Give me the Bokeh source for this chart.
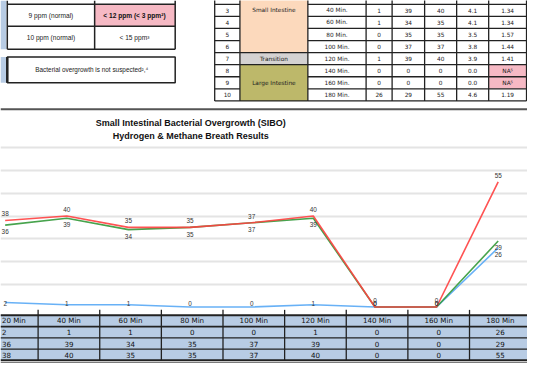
from bokeh.plotting import figure
from bokeh.models import Range1d
from bokeh.embed import file_html
from bokeh.resources import INLINE
from bokeh.core.properties import value

# ---------------- data ----------------
time_labels = ["20 Min", "40 Min", "60 Min", "80 Min", "100 Min", "120 Min", "140 Min", "160 Min", "180 Min"]
minutes = [20, 40, 60, 80, 100, 120, 140, 160, 180]
methane = [2, 1, 1, 0, 0, 1, 0, 0, 26]
hydrogen = [36, 39, 34, 35, 37, 39, 0, 0, 29]
combined = [38, 40, 35, 35, 37, 40, 0, 0, 55]

sample_nums = ["2", "3", "4", "5", "6", "7", "8", "9", "10"]
sample_times = ["20 Min.", "40 Min.", "60 Min.", "80 Min.", "100 Min.", "120 Min.", "140 Min.", "160 Min.", "180 Min."]
co2_vals = ["3.2", "4.1", "4.1", "3.5", "3.8", "3.9", "0.0", "0.0", "4.6"]
factor_vals = ["1.71", "1.34", "1.34", "1.57", "1.44", "1.41", "NA\u2075", "NA\u2075", "1.19"]
regions = ["Small Intestine", "Transition", "Large Intestine"]
region_first = [0, 5, 6]
region_last = [4, 5, 8]
region_label_row = [1, 5, 7]

ref_left = ["9 ppm (normal)", "10 ppm (normal)"]
ref_right = ["< 12 ppm (< 3 ppm\u00b2)", "< 15 ppm\u00b3"]
conclusion = "Bacterial overgrowth is not suspected\u00b2,\u2074"
title_lines = ["Small Intestinal Bacterial Overgrowth (SIBO)", "Hydrogen & Methane Breath Results"]

# ---------------- styling / layout ----------------
RED, GREEN, BLUE = "#FF4040", "#33993A", "#58A8F5"
DARK = "#222222"
TBL_BLUE = "#B8CCE4"
PINK = "#F6B9C4"
PEACH = "#FCD9BC"
GREY = "#D4D2D2"
OLIVE = "#BDB86A"
S = 0.965


def fs(px):
    return f"{px * S:.1f}px"


W, H = 527, 363
p = figure(width=W, height=H, x_range=Range1d(0, 543), y_range=Range1d(379, 0),
           output_backend="svg", toolbar_location=None, min_border=0,
           x_axis_location=None, y_axis_location=None,
           background_fill_color="white", border_fill_color="white")
p.grid.visible = False
p.outline_line_color = None

X0_PX, DX_PX = 4.8, 63.5
p.extra_x_ranges = {"min": Range1d(20 - X0_PX * 20 / DX_PX, 20 + (543 - X0_PX) * 20 / DX_PX)}
Y0_PX, PX_PER_PPM = 320.0, 2.375
p.extra_y_ranges = {"ppm": Range1d(-(379 - Y0_PX) / PX_PER_PPM, Y0_PX / PX_PER_PPM)}
TABLE_SHIFT = 2.2 * 20 / DX_PX  # data table columns sit slightly right of the points

# ---------------- top-left reference table ----------------
p.quad(left=0, right=6, bottom=51, top=0, fill_color=TBL_BLUE, line_color=None)
p.quad(left=97, right=180, bottom=27, top=4, fill_color=PINK, line_color=None)
p.segment(x0=[7, 97, 180], y0=[0, 0, 0], x1=[7, 97, 180], y1=[51, 51, 51], line_color=DARK, line_width=1.5)
p.segment(x0=[7, 7, 7], y0=[4, 27, 51], x1=[180, 180, 180], y1=[4, 27, 51], line_color=DARK, line_width=1.5)
row_y = [15.5, 39]
p.text(x=[52] * 2, y=row_y, text=ref_left, text_align="center", text_baseline="middle",
       text_font=value("Liberation Sans"), text_font_size=fs(6.8), text_color="#222")
p.text(x=[138], y=row_y[:1], text=ref_right[:1], text_align="center", text_baseline="middle",
       text_font=value("Liberation Sans"), text_font_size=fs(6.8), text_font_style="bold", text_color="#111")
p.text(x=[138], y=row_y[1:], text=ref_right[1:], text_align="center", text_baseline="middle",
       text_font=value("Liberation Sans"), text_font_size=fs(6.8), text_color="#222")

# conclusion box
p.quad(left=0, right=6, bottom=86, top=59, fill_color=TBL_BLUE, line_color=None)
p.quad(left=7, right=180, bottom=86, top=59, fill_color="white", line_color=DARK, line_width=1.5)
p.segment(x0=[7], y0=[59], x1=[7], y1=[86], line_color=DARK, line_width=2.5)
p.text(x=[94], y=[72.5], text=[conclusion], text_align="center", text_baseline="middle",
       text_font=value("Liberation Sans"), text_font_size=fs(6.6), text_color="#222")

# ---------------- top-right sample table ----------------
col_edges = [220.7, 246.7, 316.7, 376.7, 403.5, 437.0, 470.0, 503.0, 542.0]
ROW_TOP, ROW_H = -8.6, 12.6
n = len(sample_nums)
row_edges = [ROW_TOP + ROW_H * k for k in range(n + 1)]
row_mid = [ROW_TOP + ROW_H * (k + 0.5) for k in range(n)]
visible = [k for k in range(n) if row_mid[k] > 5]   # first row is cut off by the page edge
region_colors = [PEACH, GREY, OLIVE]
for i, rname in enumerate(regions):
    top = row_edges[region_first[i]] if i > 0 else -30
    p.quad(left=col_edges[1], right=col_edges[2], top=top, bottom=row_edges[region_last[i] + 1],
           fill_color=region_colors[i], line_color=None)
na_rows = [k for k, v in enumerate(factor_vals) if v.startswith("NA")]
p.quad(left=[col_edges[7]] * len(na_rows), right=[col_edges[8]] * len(na_rows),
       top=[row_edges[k] for k in na_rows], bottom=[row_edges[k + 1] for k in na_rows],
       fill_color=PINK, line_color=None)
hx0, hx1, hy = [], [], []
for y in row_edges:
    hx0 += [col_edges[0], col_edges[2]]
    hx1 += [col_edges[1], col_edges[8]]
    hy += [y, y]
for i in range(len(regions)):
    hx0.append(col_edges[1]); hx1.append(col_edges[2]); hy.append(row_edges[region_last[i] + 1])
p.segment(x0=hx0, y0=hy, x1=hx1, y1=hy, line_color=DARK, line_width=1.3)
p.segment(x0=col_edges, y0=[-30] * len(col_edges), x1=col_edges, y1=[row_edges[-1]] * len(col_edges),
          line_color=DARK, line_width=1.3)
cell_font = dict(text_align="center", text_baseline="middle", text_font=value("DejaVu Sans"),
                 text_font_size=fs(6.0), text_color="#222")
col_centers = [(col_edges[j] + col_edges[j + 1]) / 2 for j in range(len(col_edges) - 1)]
columns = [sample_nums, None, sample_times, [str(v) for v in methane], [str(v) for v in hydrogen],
           [str(v) for v in combined], co2_vals, factor_vals]
for j, col in enumerate(columns):
    if col is None:
        continue
    p.text(x=[col_centers[j]] * len(visible), y=[row_mid[k] for k in visible],
           text=[col[k] for k in visible], **cell_font)
p.text(x=[col_centers[1]] * len(regions), y=[row_mid[k] for k in region_label_row], text=regions, **cell_font)

# separator
p.segment(x0=[0], y0=[113.5], x1=[543], y1=[113.5], line_color="#555555", line_width=2)

# ---------------- chart ----------------
p.text(x=[196, 196], y=[128, 141], text=title_lines, text_align="center", text_baseline="middle",
       text_font=value("Liberation Sans"), text_font_size=fs(9.3), text_font_style="bold", text_color="#111")
p.hspan(y=[10, 20, 30, 40, 50, 60, 70], y_range_name="ppm", line_color="#E4E4E4", line_width=2)

for series, color in [(methane, BLUE), (hydrogen, GREEN), (combined, RED)]:
    p.line(minutes, series, x_range_name="min", y_range_name="ppm", line_color=color,
           line_width=1.6, line_alpha=0.9)

OFF = 7 / PX_PER_PPM
FLOOR = (Y0_PX - 316) / PX_PER_PPM
lab_font = dict(text_align="center", text_baseline="middle", text_font=value("Liberation Sans"),
                text_font_size=fs(6.6), text_color="#333333")
p.text(x=minutes, y=[v + OFF for v in combined], text=[str(v) for v in combined],
       x_range_name="min", y_range_name="ppm", **lab_font)
p.text(x=minutes, y=[max(v - OFF, FLOOR) for v in hydrogen], text=[str(v) for v in hydrogen],
       x_range_name="min", y_range_name="ppm", **lab_font)
p.text(x=minutes, y=[max(v - OFF, FLOOR) for v in methane], text=[str(v) for v in methane],
       x_range_name="min", y_range_name="ppm", **lab_font)

# ---------------- data table under the chart ----------------
tbl_edges = [328.5, 340.5, 352.3, 364.0, 375.5]
p.quad(left=0, right=543, top=tbl_edges[0], bottom=tbl_edges[-1], fill_color=TBL_BLUE, line_color=None)
p.segment(x0=[0] * len(tbl_edges), y0=tbl_edges, x1=[543] * len(tbl_edges), y1=tbl_edges,
          line_color=DARK, line_width=[2, 1.8, 1.3, 1.3, 2])
p.segment(x0=[0], y0=[378], x1=[543], y1=[378], line_color="#777", line_width=1)
bounds = [m + 10 + TABLE_SHIFT for m in minutes[:-1]]
p.segment(x0=bounds, y0=[323] * len(bounds), x1=bounds, y1=[tbl_edges[-1]] * len(bounds),
          x_range_name="min", line_color=DARK, line_width=1.3)
tbl_mid = [(tbl_edges[k] + tbl_edges[k + 1]) / 2 for k in range(4)]
tfont = dict(text_baseline="middle", text_font=value("DejaVu Sans"),
             text_font_size=fs(7.4), text_color="#111")
xs = [m + TABLE_SHIFT for m in minutes[1:]]
for k, row in enumerate([time_labels, methane, hydrogen, combined]):
    # first column sits at the page edge: left-align it so it stays visible
    p.text(x=[1.5], y=[tbl_mid[k]], text=[str(row[0])], text_align="left", **tfont)
    p.text(x=xs, y=[tbl_mid[k]] * len(xs), text=[str(v) for v in row[1:]], x_range_name="min",
           text_align="center", **tfont)

open("out.html", "w").write(file_html(p, INLINE))
